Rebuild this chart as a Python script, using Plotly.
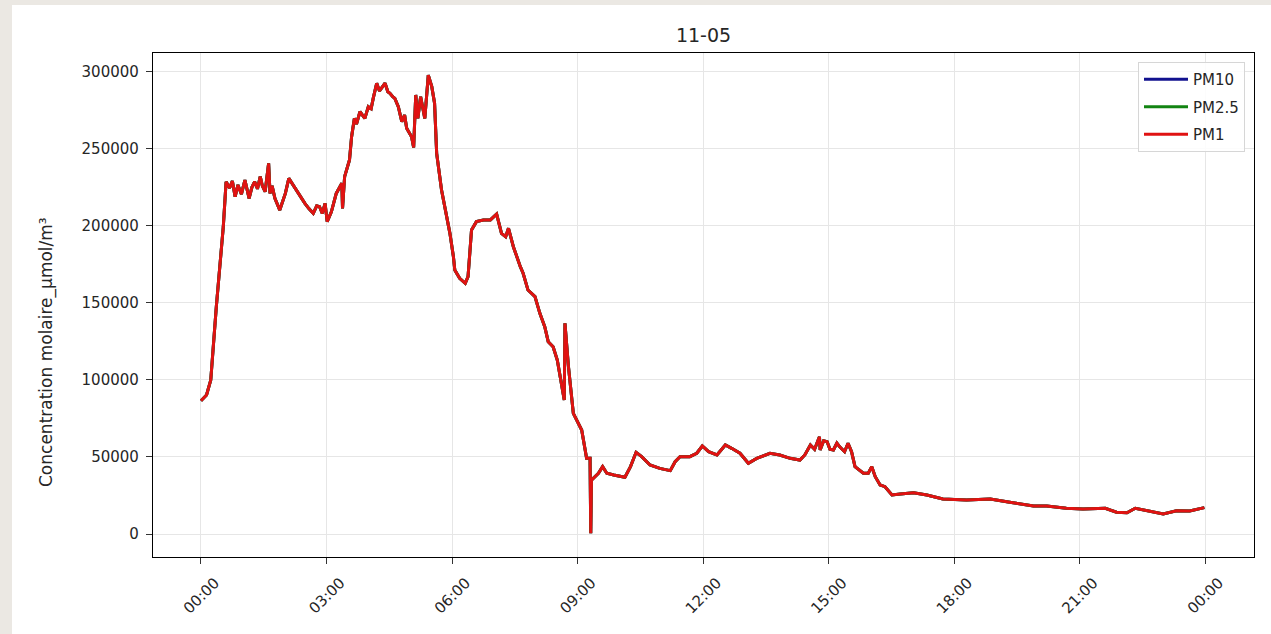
import pandas as pd
import plotly.graph_objects as go

# Relevé du 11-05 : concentration molaire des particules (µmol/m³)
jour = "2023-11-05"
heures = [
    "00:00", "00:08", "00:14", "00:17", "00:22", "00:27", "00:32", "00:36", "00:41", "00:45",
    "00:49", "00:53", "00:58", "01:03", "01:09", "01:13", "01:17", "01:21", "01:25", "01:28",
    "01:32", "01:37", "01:39", "01:42", "01:46", "01:53", "02:01", "02:06", "02:12", "02:17",
    "02:24", "02:29", "02:35", "02:41", "02:46", "02:50", "02:54", "02:58", "03:01", "03:07",
    "03:14", "03:22", "03:23", "03:26", "03:33", "03:36", "03:40", "03:43", "03:48", "03:52",
    "03:55", "04:00", "04:04", "04:07", "04:12", "04:16", "04:19", "04:24", "04:28", "04:31",
    "04:35", "04:38", "04:43", "04:48", "04:52", "04:55", "05:02", "05:05", "05:08", "05:11",
    "05:15", "05:18", "05:21", "05:26", "05:31", "05:35", "05:38", "05:45", "05:52", "05:57",
    "06:02", "06:04", "06:11", "06:19", "06:23", "06:26", "06:28", "06:35", "06:45", "06:55",
    "07:04", "07:11", "07:17", "07:21", "07:28", "07:38", "07:42", "07:49", "07:59", "08:06",
    "08:13", "08:18", "08:25", "08:31", "08:37", "08:41", "08:42", "08:47", "08:54", "08:59",
    "09:06", "09:11", "09:13", "09:18", "09:19", "09:20", "09:28", "09:30", "09:36", "09:42",
    "09:52", "10:01", "10:08", "10:16", "10:24", "10:32", "10:44", "10:58", "11:13", "11:20",
    "11:27", "11:41", "11:51", "11:59", "12:08", "12:20", "12:32", "12:41", "12:53", "13:05",
    "13:17", "13:36", "13:50", "14:05", "14:19", "14:26", "14:34", "14:40", "14:47", "14:48",
    "14:53", "14:58", "15:02", "15:07", "15:12", "15:16", "15:23", "15:28", "15:33", "15:38",
    "15:50", "15:57", "16:02", "16:07", "16:14", "16:21", "16:31", "16:43", "17:02", "17:21",
    "17:44", "18:18", "18:52", "19:20", "19:54", "20:13", "20:41", "21:05", "21:37", "21:53",
    "22:08", "22:20", "22:37", "23:00", "23:19", "23:38", "23:59",
]
pm1 = [
    86500, 90200, 99900, 119400, 147500, 173500, 199400, 228600, 224500, 229000,
    218900, 226500, 220500, 229700, 217800, 225000, 228600, 224000, 231900, 226000,
    222100, 240500, 221000, 226000, 217800, 210200, 221000, 230800, 226500, 223200,
    218000, 214600, 211000, 208100, 213000, 212400, 208000, 214600, 202700, 209100,
    221000, 227600, 211300, 231900, 242700, 257800, 269700, 266000, 274000, 271500,
    269700, 277300, 276000, 282700, 292500, 287500, 289200, 292500, 287000, 286000,
    283800, 282700, 277300, 267500, 271900, 263300, 257800, 250900, 284900, 269700,
    283800, 276000, 269700, 297800, 290300, 279500, 247000, 223200, 208100, 195100,
    180000, 171300, 165900, 162700, 167000, 186400, 197300, 202700, 203800, 203800,
    207600, 195100, 192900, 198400, 186400, 173500, 169200, 158300, 154000, 143200,
    134500, 124800, 121500, 112900, 97800, 87000, 136700, 108600, 78300, 74000,
    67500, 54500, 49100, 49100, 500, 35000, 38300, 39400, 43700, 39400,
    38300, 37200, 36800, 43700, 53000, 50200, 44800, 42600, 41100, 46900,
    50200, 50200, 52400, 57100, 53400, 51300, 57800, 55600, 52400, 45900,
    49100, 52400, 51300, 49100, 48000, 51300, 57800, 55000, 63100, 54500,
    60500, 59900, 55000, 54500, 59000, 56600, 53400, 58900, 53400, 43700,
    39400, 39400, 43700, 37200, 31800, 30700, 25300, 26000, 26800, 25300,
    22700, 22100, 22700, 20600, 18200, 18200, 16700, 16200, 16700, 14100,
    13800, 16700, 15100, 13000, 15100, 14900, 17100,
]
# Les trois fractions se superposent exactement sur ce relevé
pm25 = list(pm1)
pm10 = list(pm1)

series = [("PM10", pm10, "#12128f"), ("PM2.5", pm25, "#128412"), ("PM1", pm1, "#e01212")]
y_ticks = [0, 50000, 100000, 150000, 200000, 250000, 300000]

t = pd.to_datetime([f"{jour} {h}" for h in heures])
minuit = pd.Timestamp(jour)
x_range = [minuit - pd.Timedelta(hours=1.147), minuit + pd.Timedelta(hours=25.17)]

W, H = 1271, 634
ML, MR, MT, MB = 153, 17, 53, 77
pw, ph = W - ML - MR, H - MT - MB
txt = "#262626"
font = "DejaVu Sans"

fig = go.Figure()
for nom, vals, col in series:
    fig.add_trace(go.Scatter(x=t, y=vals, mode="lines", name=nom, legendgroup=nom,
                             line=dict(color=col, width=3)))

# fond de la figure : bande beige en haut et à gauche
fig.add_shape(type="rect", xref="paper", yref="paper", layer="below",
              x0=(12 - ML) / pw, x1=1 + (MR + 5) / pw,
              y0=-(MB + 5) / ph, y1=1 + (MT - 5) / ph,
              fillcolor="white", line=dict(width=0))

fig.add_annotation(text="Concentration molaire_µmol/m³", textangle=-90,
                   xref="paper", yref="paper", x=(46 - ML) / pw, y=1 - (352 - MT) / ph,
                   xanchor="center", yanchor="middle", showarrow=False,
                   font=dict(family=font, size=17, color=txt))

fig.update_layout(
    width=W, height=H,
    margin=dict(l=ML, r=MR, t=MT, b=MB),
    paper_bgcolor="#ebe8e3", plot_bgcolor="white",
    title=dict(text="11-05", x=0.5, xref="paper", y=1 - 35 / H, yanchor="middle",
               xanchor="center", font=dict(family=font, size=19, color=txt)),
    font=dict(family=font, size=15, color=txt),
    showlegend=True,
    legend=dict(x=(1245 - ML) / pw, y=1 - (62 - MT) / ph, xanchor="right", yanchor="top",
                bgcolor="rgba(255,255,255,0.85)", bordercolor="#d6d6d6", borderwidth=1,
                font=dict(family=font, size=15, color=txt), tracegroupgap=5,
                itemwidth=44),
)
fig.update_xaxes(type="date", range=x_range, tickformat="%H:%M",
                 dtick=3 * 3600 * 1000, tick0=minuit, tickangle=-45,
                 ticklabelshift=14, ticklabelstandoff=4,
                 showgrid=True, gridcolor="#e6e6e6", gridwidth=1,
                 showline=True, linecolor="black", linewidth=1.3, mirror=True,
                 ticks="outside", ticklen=6, tickcolor="#333", zeroline=False,
                 tickfont=dict(family=font, size=15, color=txt))
fig.update_yaxes(range=[-14925, 312130], tickvals=y_ticks, tickformat="d",
                 ticklabelstandoff=4,
                 showgrid=True, gridcolor="#e6e6e6", gridwidth=1,
                 showline=True, linecolor="black", linewidth=1.3, mirror=True,
                 ticks="outside", ticklen=6, tickcolor="#333", zeroline=False,
                 tickfont=dict(family=font, size=15, color=txt))

fig.write_html("out.html")
